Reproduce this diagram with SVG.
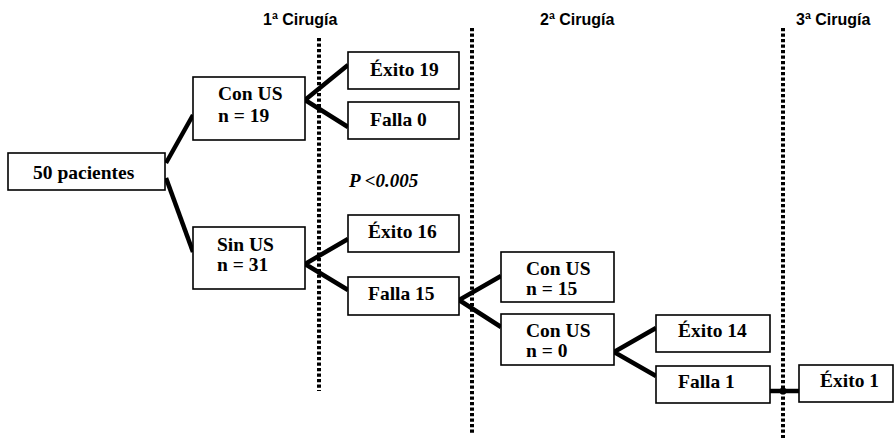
<svg xmlns="http://www.w3.org/2000/svg" width="895" height="439" viewBox="0 0 895 439">
<style>
.box{fill:#fff;stroke:#000;stroke-width:1.6}
.t{font-family:"Liberation Serif","Times New Roman",serif;font-weight:bold;font-size:19.5px;fill:#000}
.h{font-family:"Liberation Sans",Arial,sans-serif;font-weight:bold;font-size:16px;fill:#000}
.p{font-family:"Liberation Serif","Times New Roman",serif;font-weight:bold;font-style:italic;font-size:19px;fill:#000}
.dot{stroke:#000;stroke-width:4;stroke-dasharray:3.2 2.3;fill:none}
.c{stroke:#000;stroke-width:4.5;fill:none;stroke-linecap:butt}
</style>
<rect width="895" height="439" fill="#fff"/>
<g id="headers">
<text class="h" x="263" y="25">1ª Cirugía</text>
<text class="h" x="540" y="25">2ª Cirugía</text>
<text class="h" x="796" y="25">3ª Cirugía</text>
</g>
<g id="dividers">
<line class="dot" x1="319" y1="38" x2="319" y2="391"/>
<line class="dot" x1="472" y1="28" x2="472" y2="434"/>
<line class="dot" x1="783" y1="28" x2="783" y2="438"/>
</g>
<g id="connectors">
<line class="c" x1="166" y1="163" x2="193" y2="115"/>
<line class="c" x1="166" y1="178" x2="193" y2="252"/>
<polyline class="c" points="348,65 305,100 348,127"/>
<polyline class="c" points="348,239 305,264 348,290"/>
<polyline class="c" points="501,276 459,300 501,327"/>
<polyline class="c" points="656,328 614,352 656,376"/>
<line class="c" x1="770" y1="391" x2="799" y2="391"/>
<circle cx="783" cy="391" r="3.5" fill="#000"/>
</g>
<g id="n50">
<rect class="box" x="8" y="153" width="157" height="37"/>
<text class="t" x="33" y="179">50 pacientes</text>
</g>
<g id="conus19">
<rect class="box" x="193" y="77" width="112" height="63"/>
<text class="t" x="218" y="100">Con US</text>
<text class="t" x="218" y="122">n = 19</text>
</g>
<g id="sinus31">
<rect class="box" x="193" y="227" width="112" height="62"/>
<text class="t" x="217" y="251">Sin US</text>
<text class="t" x="217" y="271">n = 31</text>
</g>
<g id="exito19">
<rect class="box" x="348" y="52" width="111" height="37"/>
<text class="t" x="370" y="76">Éxito 19</text>
</g>
<g id="falla0">
<rect class="box" x="348" y="102" width="111" height="37"/>
<text class="t" x="370" y="126">Falla 0</text>
</g>
<g id="pvalue">
<text class="p" x="349" y="187">P &lt;0.005</text>
</g>
<g id="exito16">
<rect class="box" x="348" y="215" width="111" height="37"/>
<text class="t" x="368" y="238">Éxito 16</text>
</g>
<g id="falla15">
<rect class="box" x="348" y="277" width="111" height="38"/>
<text class="t" x="368" y="300">Falla 15</text>
</g>
<g id="conus15">
<rect class="box" x="501" y="252" width="113" height="50"/>
<text class="t" x="526" y="275">Con US</text>
<text class="t" x="526" y="295">n = 15</text>
</g>
<g id="conus0">
<rect class="box" x="501" y="314" width="113" height="51"/>
<text class="t" x="526" y="337">Con US</text>
<text class="t" x="526" y="357">n = 0</text>
</g>
<g id="exito14">
<rect class="box" x="656" y="315" width="114" height="37"/>
<text class="t" x="678" y="337">Éxito 14</text>
</g>
<g id="falla1">
<rect class="box" x="656" y="366" width="114" height="37"/>
<text class="t" x="678" y="388">Falla 1</text>
</g>
<g id="exito1">
<rect class="box" x="799" y="365" width="94" height="37"/>
<text class="t" x="820" y="387">Éxito 1</text>
</g>
</svg>
